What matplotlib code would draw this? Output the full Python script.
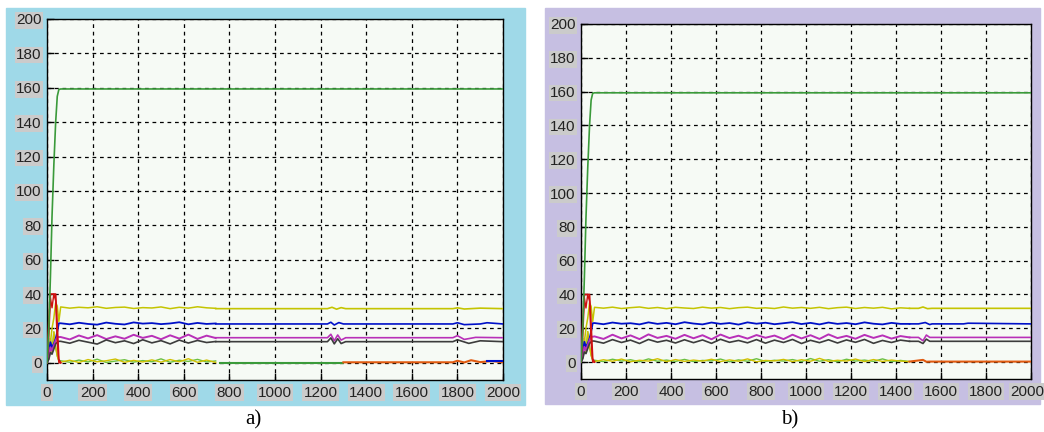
import numpy as np
import matplotlib.pyplot as plt
from matplotlib.patches import Rectangle
from matplotlib.transforms import ScaledTranslation

# ---- data -------------------------------------------------------------
# start-up transient, shared by both runs
start_x = [0, 8, 15, 22, 30, 38, 45, 52]
start_green = [0, 20, 50, 85, 115, 140, 155, 159]
start_red = [0, 25, 40, 40, 40, 40, 22, 2]
start_red2 = [0, 15, 38, 32, 40, 36, 12, 0]
start_yellow = [0, 4, 12, 20, 26, 35, 33, 24]
start_blue = [0, 6, 12, 9, 11, 14, 18, 23]
start_magenta = [0, 3, 9, 7, 10, 13, 15, 15]
start_gray = [0, 2, 6, 5, 8, 11, 12, 12.5]
start_lime = [0, 8, 14, 6, 18, 9, 4, 1]

green_top = 159.3

# run a): noisy stretch sampled every 40 steps
a_t = [60, 100, 140, 180, 220, 260, 300, 340, 380, 420, 460, 500,
       540, 580, 620, 660, 700, 740]
a_yellow = [32.5, 31.8, 32.3, 32.0, 32.6, 31.7, 32.2, 32.4, 31.6, 32.1,
            31.9, 32.5, 31.5, 32.3, 31.8, 32.6, 32.0, 31.7]
a_blue = [23.0, 22.4, 23.3, 22.6, 22.2, 23.4, 22.7, 22.3, 23.5, 22.8,
          23.1, 22.5, 22.9, 23.6, 22.4, 23.2, 22.6, 22.9]
a_magenta = [15.0, 13.6, 15.9, 14.2, 16.1, 13.8, 15.4, 14.0, 16.3, 14.5,
             15.7, 13.7, 16.0, 14.1, 16.4, 13.9, 15.8, 14.4]
a_gray = [12.5, 11.4, 13.1, 12.0, 10.9, 13.3, 11.7, 12.8, 11.2, 13.4,
          11.6, 12.9, 11.0, 13.2, 11.5, 13.0, 11.8, 12.4]
a_lime = [1.2, 0.3, 1.6, 0.5, 2.1, 0.2, 1.0, 1.8, 0.4, 1.3, 0.6, 2.3,
          0.3, 1.5, 0.8, 2.0, 0.5, 1.1]
a_olive = [0.4, 1.5, 0.2, 1.9, 0.6, 1.2, 2.2, 0.3, 1.4, 0.5, 1.7, 0.4,
           1.9, 0.6, 2.4, 0.3, 1.6, 0.2]

# run a): later bursts (time, value)
a_yellow_tail_x = [800, 1230, 1250, 1270, 1290, 1310, 1780, 1800, 1830, 1900, 2000]
a_yellow_tail_y = [31.5, 31.5, 32.3, 31.2, 32.1, 31.5, 31.5, 32.0, 31.3, 31.8, 31.5]
a_blue_tail_x = [800, 1230, 1245, 1260, 1280, 1300, 1780, 1800, 1830, 1900, 1930, 2000]
a_blue_tail_y = [22.6, 22.6, 23.6, 22.0, 23.4, 22.6, 22.6, 23.3, 22.2, 22.6, 23.3, 22.6]
a_magenta_tail_x = [800, 1230, 1245, 1260, 1275, 1290, 1310, 1780, 1800, 1830, 1880, 2000]
a_magenta_tail_y = [14.6, 14.6, 16.6, 12.8, 16.2, 13.2, 14.6, 14.6, 15.8, 13.6, 14.8, 14.6]
a_gray_tail_x = [800, 1230, 1245, 1260, 1275, 1290, 1310, 1780, 1800, 1850, 1900, 2000]
a_gray_tail_y = [12.3, 12.3, 14.5, 11.0, 14.0, 11.2, 12.3, 12.3, 13.4, 11.3, 12.8, 12.3]
a_green_flat_x = [760, 1300]
a_green_flat_y = [0.0, 0.0]
a_orange_x = [1300, 1780, 1800, 1830, 1860, 1900, 1950, 2000]
a_orange_y = [0.3, 0.3, 1.2, 0.2, 1.5, 0.4, 1.0, 0.3]
a_blue_low_x = [1930, 2000]
a_blue_low_y = [1.0, 1.0]

# run b): noisy stretch sampled every 40 steps
b_t = [60, 100, 140, 180, 220, 260, 300, 340, 380, 420, 460, 500,
       540, 580, 620, 660, 700, 740, 780, 820, 860, 900, 940, 980,
       1020, 1060, 1100, 1140, 1180, 1220, 1260, 1300, 1340, 1380, 1420, 1460]
b_yellow = [32.4, 31.9, 32.5, 31.7, 32.2, 32.6, 31.8, 32.3, 31.6, 32.4,
            32.0, 31.7, 32.5, 31.9, 32.3, 31.6, 32.2, 32.5, 31.8, 32.1,
            31.7, 32.6, 31.9, 32.3, 31.8, 32.4, 31.6, 32.2, 32.5, 31.7,
            32.3, 31.9, 32.4, 31.5, 32.1, 31.8]
b_blue = [23.1, 22.4, 23.4, 22.7, 23.0, 22.3, 23.5, 22.6, 23.2, 22.4,
          23.6, 22.8, 22.3, 23.4, 22.6, 23.1, 22.2, 23.5, 22.7, 23.3,
          22.4, 23.0, 23.6, 22.5, 23.2, 22.3, 23.4, 22.6, 23.1, 22.4,
          23.5, 22.7, 22.3, 23.2, 22.6, 22.6]
b_magenta = [15.2, 13.7, 16.2, 14.0, 15.8, 13.6, 16.4, 14.3, 15.5, 13.8,
             16.1, 14.1, 15.9, 13.5, 16.3, 14.2, 15.6, 13.9, 16.0, 14.4,
             15.7, 13.6, 16.2, 14.0, 15.9, 13.7, 16.4, 14.2, 15.5, 13.8,
             16.1, 14.3, 15.8, 13.9, 15.4, 14.6]
b_gray = [12.4, 11.2, 13.3, 11.6, 13.0, 11.0, 13.4, 11.8, 12.9, 11.3,
          13.2, 11.5, 13.1, 11.1, 13.5, 11.7, 12.8, 11.4, 13.3, 11.2,
          13.0, 11.6, 13.4, 11.0, 12.9, 11.5, 13.2, 11.3, 13.1, 11.7,
          13.4, 11.1, 12.8, 11.6, 13.0, 12.3]
b_lime = [1.1, 0.3, 1.7, 0.6, 1.4, 0.2, 1.9, 0.5, 1.2, 0.4, 1.6, 0.3,
          1.0, 0.7, 1.8, 0.2, 1.3, 0.5, 2.0, 0.4, 1.1, 0.6, 1.5, 0.3,
          2.1, 0.5, 1.4, 0.2, 1.7, 0.6, 1.2, 0.4, 1.9, 0.3, 1.0, 0.3]
b_olive = [0.3, 1.4, 0.5, 1.8, 0.2, 1.1, 0.6, 2.0, 0.3, 1.5, 0.4, 1.2,
           0.6, 1.7, 0.3, 1.3, 0.5, 1.9, 0.2, 1.0, 0.7, 1.6, 0.3, 1.4,
           0.5, 2.2, 0.4, 1.1, 0.6, 1.8, 0.3, 1.5, 0.4, 1.2, 0.6, 0.3]

b_yellow_tail_x = [1500, 1520, 1540, 1560, 2000]
b_yellow_tail_y = [31.8, 32.6, 31.6, 31.8, 31.8]
b_blue_tail_x = [1500, 1530, 1550, 1560, 1700, 1720, 2000]
b_blue_tail_y = [22.6, 23.4, 22.2, 22.6, 22.6, 23.0, 22.6]
b_magenta_tail_x = [1500, 1520, 1535, 1550, 2000]
b_magenta_tail_y = [14.6, 12.6, 16.0, 14.6, 14.6]
b_gray_tail_x = [1500, 1520, 1535, 1550, 2000]
b_gray_tail_y = [12.3, 11.0, 13.6, 12.3, 12.3]
b_orange_x = [1460, 1520, 1535, 1550, 2000]
b_orange_y = [0.3, 1.3, 0.2, 0.3, 0.3]

xticks = [0, 200, 400, 600, 800, 1000, 1200, 1400, 1600, 1800, 2000]
yticks = [0, 20, 40, 60, 80, 100, 120, 140, 160, 180, 200]

# ---- colours ----------------------------------------------------------
c_green = '#3a9a3a'
c_red = '#d01010'
c_yellow = '#c4c400'
c_blue = '#0010c8'
c_magenta = '#b830b8'
c_gray = '#3c3c3c'
c_lime = '#6cc040'
c_olive = '#d0c000'
c_orange = '#e05a10'


def draw(ax, t, yel, blu, mag, gry, lim, oli, tails, flats):
    ax.set_facecolor('#f6faf5')
    ax.plot([0] + start_x[1:] + [60, 2000], start_green + [green_top, green_top],
            color=c_green, lw=1.2, zorder=5)
    ax.plot(start_x + [60], start_red + [0], color=c_red, lw=1.2, zorder=4)
    ax.plot(start_x + [60], start_red2 + [0], color=c_red, lw=1.0, zorder=4)
    ax.plot(start_x + t, start_lime + lim, color=c_lime, lw=1.0, zorder=3)
    ax.plot(start_x[2:] + t, start_lime[2:] + oli, color=c_olive, lw=1.0, zorder=3)
    ax.plot(start_x + t, start_yellow + yel, color=c_yellow, lw=1.1, zorder=3)
    ax.plot(start_x + t, start_blue + blu, color=c_blue, lw=1.3, zorder=3)
    ax.plot(start_x + t, start_magenta + mag, color=c_magenta, lw=1.4, zorder=3)
    ax.plot(start_x + t, start_gray + gry, color=c_gray, lw=1.2, zorder=3)
    for (tx, ty), col in tails:
        ax.plot([t[-1]] + tx, [ty[0]] + ty, color=col, lw=1.2, zorder=3)
    for (fx, fy), col in flats:
        ax.plot(fx, fy, color=col, lw=1.5, zorder=3)

    ax.set_xlim(0, 2000)
    ax.set_ylim(-10, 200)
    ax.set_xticks(xticks)
    ax.set_yticks(yticks)
    ax.grid(True, color='black', linestyle=(0, (3, 3)), linewidth=0.9)
    ax.tick_params(direction='in', length=5, width=1, labelsize=11,
                   labelcolor='#222222', pad=4)
    for lab in ax.get_xticklabels() + ax.get_yticklabels():
        lab.set_family('Liberation Sans')
        lab.set_bbox(dict(facecolor='#cbcbcb', edgecolor='none', pad=1.0))
    for s in ax.spines.values():
        s.set_linewidth(1.0)


fig = plt.figure(figsize=(10.44, 4.32), dpi=100)
fig.patches.append(Rectangle((6 / 1044, 1 - 405 / 432), 519 / 1044, 397 / 432,
                             transform=fig.transFigure, color='#9fd9e8', zorder=-5))
fig.patches.append(Rectangle((545 / 1044, 1 - 404 / 432), 495 / 1044, 396 / 432,
                             transform=fig.transFigure, color='#c6bfe2', zorder=-5))

ax1 = fig.add_axes([47 / 1044, 1 - 380 / 432, 456 / 1044, 361 / 432])
draw(ax1, a_t, a_yellow, a_blue, a_magenta, a_gray, a_lime, a_olive,
     [((a_yellow_tail_x, a_yellow_tail_y), c_yellow),
      ((a_blue_tail_x, a_blue_tail_y), c_blue),
      ((a_magenta_tail_x, a_magenta_tail_y), c_magenta),
      ((a_gray_tail_x, a_gray_tail_y), c_gray)],
     [((a_green_flat_x, a_green_flat_y), c_green),
      ((a_orange_x, a_orange_y), c_orange),
      ((a_blue_low_x, a_blue_low_y), c_blue)])

ax2 = fig.add_axes([581 / 1044, 1 - 379 / 432, 450 / 1044, 355 / 432])
draw(ax2, b_t, b_yellow, b_blue, b_magenta, b_gray, b_lime, b_olive,
     [((b_yellow_tail_x, b_yellow_tail_y), c_yellow),
      ((b_blue_tail_x, b_blue_tail_y), c_blue),
      ((b_magenta_tail_x, b_magenta_tail_y), c_magenta),
      ((b_gray_tail_x, b_gray_tail_y), c_gray)],
     [((b_orange_x, b_orange_y), c_orange)])

# keep the last tick label of b) inside the picture
last = ax2.get_xticklabels()[-1]
last.set_transform(last.get_transform() + ScaledTranslation(-4 / 100, 0, fig.dpi_scale_trans))

fig.text(253 / 1044, 1 - 420 / 432, 'a)', ha='center', va='center',
         family='Liberation Serif', fontsize=15)
fig.text(790 / 1044, 1 - 420 / 432, 'b)', ha='center', va='center',
         family='Liberation Serif', fontsize=15)

fig.savefig('out.png', dpi=100)
